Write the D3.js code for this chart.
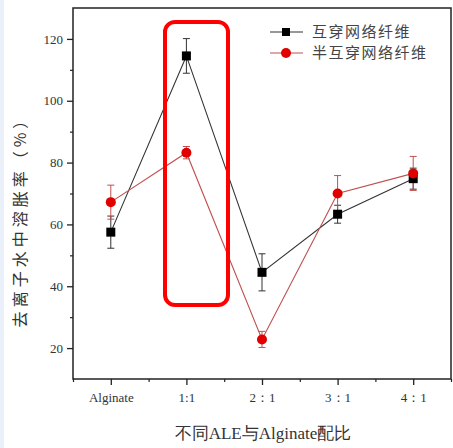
<!DOCTYPE html>
<html><head><meta charset="utf-8">
<script src="https://cdn.jsdelivr.net/npm/d3@7"></script>
<style>
html,body{margin:0;padding:0;background:#eaf0f9;}
svg{display:block;}
</style></head>
<body>
<svg id="chart" width="453" height="448"></svg>
<script>
const categories = ["Alginate", "1:1", "2：1", "3：1", "4：1"];
const seriesNames = ["互穿网络纤维", "半互穿网络纤维"];
const ipnValues = [57.5, 114.5, 44.5, 63.3, 74.8];
const ipnErrors = [5.2, 5.6, 6.0, 2.9, 3.4];
const semiValues = [67.2, 83.2, 22.8, 70.0, 76.5];
const semiErrors = [5.5, 2.0, 2.6, 5.8, 5.5];
const yTicks = [20, 40, 60, 80, 100, 120];
const yMinorTicks = [30, 50, 70, 90, 110];

const svg = d3.select("#chart");
svg.append("rect").attr("x", 4).attr("y", 0).attr("width", 449).attr("height", 448).attr("fill", "#fff");

const m = {left: 73, top: 8, right: 451, bottom: 379};
const x = d3.scaleLinear().domain([-0.5, 4.5]).range([m.left, m.right]);
const y = d3.scaleLinear().domain([10, 130]).range([m.bottom, m.top]);

// frame
svg.append("rect").attr("x", m.left).attr("y", m.top)
  .attr("width", m.right - m.left).attr("height", m.bottom - m.top)
  .attr("fill", "none").attr("stroke", "#222").attr("stroke-width", 1.5);

const serif = "'Liberation Serif','Times New Roman',serif";
const cjk = "'Noto Sans CJK SC','Noto Sans CJK JP',sans-serif";

// y axis
const yAxis = d3.axisLeft(y).tickValues(yTicks).tickSize(6).tickPadding(4).tickFormat(d3.format("d"));
const gy = svg.append("g").attr("transform", `translate(${m.left},0)`).call(yAxis);
gy.select(".domain").remove();
gy.selectAll("line").attr("stroke", "#222").attr("stroke-width", 1.3);
gy.selectAll("text").attr("font-family", serif).attr("font-size", 13).attr("fill", "#333");
const gy2 = svg.append("g").attr("transform", `translate(${m.left},0)`)
  .call(d3.axisLeft(y).tickValues(yMinorTicks).tickSize(3).tickFormat(""));
gy2.select(".domain").remove();
gy2.selectAll("line").attr("stroke", "#222").attr("stroke-width", 1.2);

// x axis
const xAxis = d3.axisBottom(x).tickValues(d3.range(categories.length)).tickSize(6).tickPadding(8)
  .tickFormat(i => categories[i]);
const gx = svg.append("g").attr("transform", `translate(0,${m.bottom})`).call(xAxis);
gx.select(".domain").remove();
gx.selectAll("line").attr("stroke", "#222").attr("stroke-width", 1.3);
gx.selectAll("text").attr("font-family", serif).attr("font-size", 13).attr("fill", "#333");
const gx2 = svg.append("g").attr("transform", `translate(0,${m.bottom})`)
  .call(d3.axisBottom(x).tickValues(d3.range(-0.5, 4.6, 1)).tickSize(3).tickFormat(""));
gx2.select(".domain").remove();
gx2.selectAll("line").attr("stroke", "#222").attr("stroke-width", 1.2);

// titles
svg.append("text").attr("x", 263).attr("y", 439).attr("text-anchor", "middle")
  .attr("font-family", serif).attr("font-size", 17).attr("fill", "#333")
  .text("不同ALE与Alginate配比");
svg.append("text").attr("transform", "translate(26,218) rotate(-90)").attr("text-anchor", "middle")
  .attr("font-family", cjk).attr("font-size", 16).attr("letter-spacing", 4).attr("fill", "#333")
  .text("去离子水中溶胀率（%）");

const series = [
  {vals: ipnValues, errs: ipnErrors, line: "#333", fill: "#000", shape: "square"},
  {vals: semiValues, errs: semiErrors, line: "#c05050", fill: "#e00000", shape: "circle"}
];
const lineGen = d3.line().x((d, i) => x(i)).y(d => y(d));

series.forEach(s => {
  const g = svg.append("g");
  g.append("path").datum(s.vals).attr("d", lineGen).attr("fill", "none")
    .attr("stroke", s.line).attr("stroke-width", 1.1);
  s.vals.forEach((v, i) => {
    const e = s.errs[i];
    g.append("line").attr("x1", x(i)).attr("x2", x(i)).attr("y1", y(v - e)).attr("y2", y(v + e))
      .attr("stroke", s.line).attr("stroke-width", 1);
    [v - e, v + e].forEach(c => g.append("line").attr("x1", x(i) - 3.5).attr("x2", x(i) + 3.5)
      .attr("y1", y(c)).attr("y2", y(c)).attr("stroke", s.line).attr("stroke-width", 1));
  });
});
series.forEach(s => {
  s.vals.forEach((v, i) => {
    if (s.shape === "square") {
      svg.append("rect").attr("x", x(i) - 4.5).attr("y", y(v) - 4.5).attr("width", 9).attr("height", 9).attr("fill", s.fill);
    } else {
      svg.append("circle").attr("cx", x(i)).attr("cy", y(v)).attr("r", 5).attr("fill", s.fill);
    }
  });
});

// legend
const lg = svg.append("g");
series.forEach((s, k) => {
  const yy = 32 + k * 21;
  lg.append("line").attr("x1", 270).attr("x2", 303).attr("y1", yy).attr("y2", yy).attr("stroke", s.line).attr("stroke-width", 1.1);
  if (s.shape === "square") lg.append("rect").attr("x", 282).attr("y", yy - 4).attr("width", 8).attr("height", 8).attr("fill", s.fill);
  else lg.append("circle").attr("cx", 286).attr("cy", yy).attr("r", 5).attr("fill", s.fill);
  lg.append("text").attr("x", 312).attr("y", yy + 5).attr("font-family", cjk).attr("font-size", 15)
    .attr("letter-spacing", 1.5).attr("fill", "#444").text(seriesNames[k]);
});

// highlight box
svg.append("rect").attr("x", 165).attr("y", 22).attr("width", 63).attr("height", 283)
  .attr("rx", 10).attr("ry", 10).attr("fill", "none").attr("stroke", "#ff0000").attr("stroke-width", 4);
</script>
</body></html>
